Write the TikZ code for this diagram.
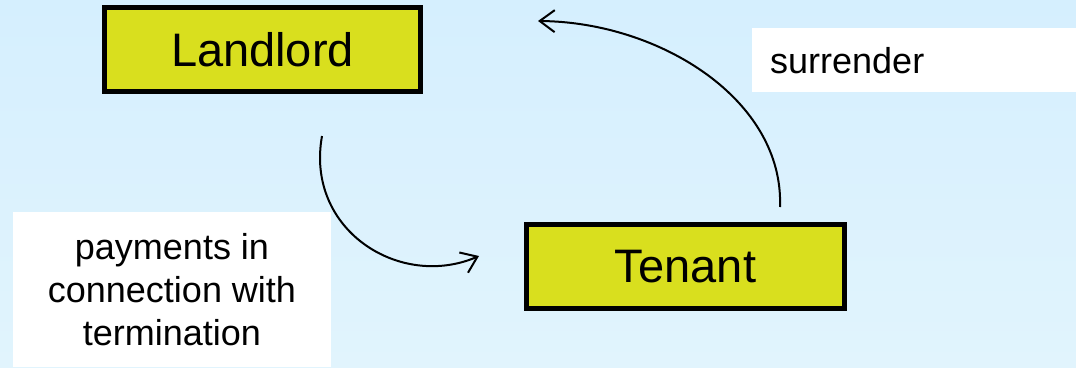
\documentclass[tikz,border=0pt]{standalone}
\usepackage{fontspec}
\setmainfont{Liberation Sans}
\usetikzlibrary{arrows.meta}
\definecolor{bgtop}{RGB}{213,239,254}
\definecolor{bgbot}{RGB}{225,244,253}
\definecolor{boxfill}{RGB}{217,223,30}
\tikzset{
  party/.style={draw=black, line width=5pt, fill=boxfill, inner sep=0pt,
    minimum width=316pt, minimum height=84pt, font=\fontsize{47}{56}\selectfont},
  labelbox/.style={fill=white, draw=none, inner sep=0pt},
  flow/.style={line width=2pt, -{Straight Barb[length=15pt,width=22pt,line width=2pt]}}
}
\begin{document}
\begin{tikzpicture}[x=1pt,y=-1pt]
\shade[top color=bgtop, bottom color=bgbot] (0,0) rectangle (1076,367);
\useasboundingbox (0,0) rectangle (1076,367);
\node[party] (landlord) at (262.5,49.5) {Landlord};
\node[party, minimum width=318pt] (tenant) at (685.5,266.5) {Tenant};
\node[labelbox, minimum width=324pt, minimum height=64pt] (surrbox) at (914,59.5) {};
\node[anchor=west, inner sep=0pt, font=\fontsize{36}{43}\selectfont] (surr) at (770,61) {surrender};
\node[labelbox, minimum width=318pt, minimum height=155pt] (paybox) at (172,289.5) {};
\node[align=center, inner sep=0pt, font=\fontsize{36}{43}\selectfont] (pay) at (172,290) {payments in\\connection with\\termination};
\coordinate (a1s) at (322,136);
\coordinate (a1e) at (479,256);
\coordinate (a2s) at (780,207);
\coordinate (a2e) at (538,21);
\draw[flow] (a1s) .. controls (305,230) and (400,290) .. (a1e);
\draw[flow] (a2s) .. controls (784,100) and (660,22) .. (a2e);
\end{tikzpicture}
\end{document}
